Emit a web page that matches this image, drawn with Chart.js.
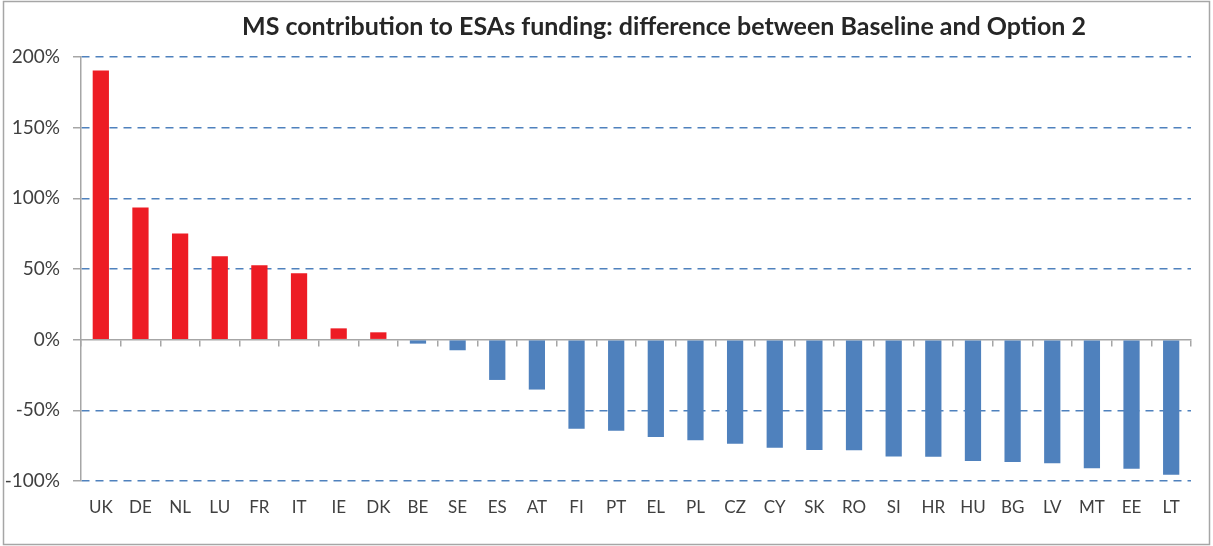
<!DOCTYPE html>
<html>
<head>
<meta charset="utf-8">
<script src="https://cdn.jsdelivr.net/npm/chart.js@4.4.0/dist/chart.umd.min.js"></script>
<style>
  html, body { margin: 0; padding: 0; background: #fff; }
  #wrap { width: 1213px; height: 546px; position: relative; }
</style>
</head>
<body>
<div id="wrap"><canvas id="myChart" width="1213" height="546"></canvas></div>
<script>
// country codes, in the order shown
const countries = ['UK', 'DE', 'NL', 'LU', 'FR', 'IT', 'IE', 'DK', 'BE', 'SE', 'ES', 'AT', 'FI', 'PT',
    'EL', 'PL', 'CZ', 'CY', 'SK', 'RO', 'SI', 'HR', 'HU', 'BG', 'LV', 'MT', 'EE', 'LT'];

// difference in %
const diffValues = [190.5, 93.6, 75.2, 59, 52.6, 47, 8, 5.2, -2.8, -7.5, -28.5, -35.3, -63, -64.5,
    -68.8, -71.1, -73.7, -76.4, -78, -78.2, -82.6, -82.8, -85.8, -86.5, -87.5, -91, -91.4, -95.5];

const yTicks = [200, 150, 100, 50, 0, -50, -100];

const chartTitle = 'MS contribution to ESAs funding: difference between Baseline and Option 2';

const fontName = 'Lato, "Open Sans", sans-serif';

let barColors = diffValues.map(v => v >= 0 ? '#ed1c24' : '#4f81bd');

// frame and title, drawn on the canvas
const frame = {
    id: 'frame',
    beforeDraw(chart) {
        const ctx = chart.ctx;
        ctx.save();
        ctx.strokeStyle = '#a6a6a6';
        ctx.lineWidth = 1.5;
        ctx.strokeRect(3.5, 1.5, 1206, 543);
        ctx.restore();
    },
    afterDraw(chart) {
        const ctx = chart.ctx;
        ctx.save();
        ctx.fillStyle = '#262626';
        ctx.font = 'bold 25px ' + fontName;
        ctx.textAlign = 'center';
        ctx.textBaseline = 'middle';
        ctx.fillText(chartTitle, 664, 27);
        ctx.restore();
    }
};

const data = {
    labels: countries,
    datasets: [{
        data: diffValues,
        backgroundColor: barColors,
        barPercentage: 0.41,
        categoryPercentage: 1
    }]
};

const config = {
    type: 'bar',
    data: data,
    plugins: [frame],
    options: {
        responsive: false,
        animation: false,
        layout: { padding: { top: 57, right: 22, left: 0, bottom: 0 } },
        plugins: {
            legend: { display: false },
            tooltip: { enabled: false }
        },
        scales: {
            x: {
                type: 'category',
                grid: { display: false, drawTicks: false },
                border: { display: false },
                ticks: {
                    color: '#404040',
                    font: { family: fontName, size: 17 },
                    padding: 16,
                    maxRotation: 0,
                    autoSkip: false
                },
                afterFit: s => { s.height = 65; }
            },
            x2: {
                type: 'category',
                axis: 'x',
                labels: countries,
                position: { y: 0 },
                offset: true,
                grid: {
                    offset: true,
                    drawOnChartArea: false,
                    drawTicks: true,
                    tickLength: 6,
                    color: '#a6a6a6',
                    lineWidth: 1.5
                },
                border: { display: true, color: '#a6a6a6', width: 1.5 },
                ticks: { display: false }
            },
            y: {
                min: -100,
                max: 200,
                afterBuildTicks: s => { s.ticks = yTicks.map(v => ({ value: v })); },
                grid: {
                    color: c => c.tick && c.tick.value === 0 ? 'rgba(0,0,0,0)' : '#4f81bd',
                    lineWidth: 1.5,
                    tickColor: '#a6a6a6',
                    tickBorderDash: [],
                    tickLength: 8
                },
                // in v4 border.dash styles the grid lines
                border: { display: true, color: '#a6a6a6', width: 1.5, dash: [8, 6] },
                ticks: {
                    color: '#404040',
                    font: { family: fontName, size: 19 },
                    padding: 13,
                    callback: v => v + '%'
                },
                afterFit: s => { s.width = 81; }
            }
        }
    }
};

const myChart = new Chart(document.getElementById('myChart'), config);
</script>
</body>
</html>
